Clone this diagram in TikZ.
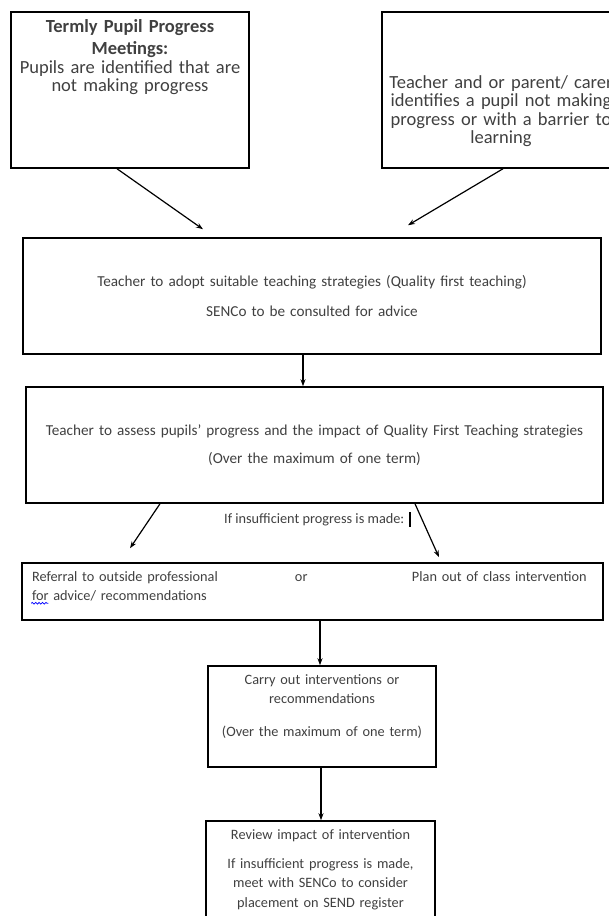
\documentclass[tikz,border=0pt]{standalone}
\usepackage{fontspec}
\setmainfont{Carlito}
\usepackage{tikz}
\usetikzlibrary{arrows.meta, positioning, decorations.pathmorphing}
\newcommand{\fbig}{\fontsize{18.5pt}{18.5pt}\selectfont}
\newcommand{\fmid}{\fontsize{15.2pt}{19.5pt}\selectfont}
\newcommand{\fsmall}{\fontsize{14.3pt}{19.5pt}\selectfont}
\tikzset{
  base/.style    = {draw, line width=1.5pt, text=black!75, align=center, inner sep=5pt},
  pbig/.style    = {base, font=\fbig, minimum width=238pt, text width=228pt},
  pwide/.style   = {base, font=\fmid, minimum height=116pt, text width=565pt},
  pnarrow/.style = {base, font=\fsmall, text width=216pt, text height=13pt},
  ptxt/.style    = {font=\fsmall, text=black!75, inner sep=2pt},
  arr/.style     = {-{Stealth[length=7pt,width=5pt]}, line width=1.2pt},
  squig/.style   = {blue, line width=0.7pt, decorate,
                    decoration={snake, amplitude=0.9pt, segment length=3.4pt}},
}

\begin{document}
\begin{tikzpicture}[x=1pt, y=1pt]

%% ── page ────────────────────────────────────────────────────────────────────
\useasboundingbox (0,0) rectangle (609,-916);
\clip (0,0) rectangle (609,-916);

%% ── top boxes ───────────────────────────────────────────────────────────────
\node[pbig, text height=15.5pt, text depth=130.5pt] (pmeet) at (130,-90)
  {\textbf{Termly Pupil Progress}\\[3.5pt]\textbf{Meetings:}\\Pupils are identified that are\\not making progress};
\node[pbig, text height=71pt, text depth=75pt] (pcarer) at (501,-90)
  {Teacher and or parent/ carer\\identifies a pupil not making\\progress or with a barrier to\\learning};

%% ── main column ─────────────────────────────────────────────────────────────
\node[pwide, minimum width=578pt] (pqft) at (312,-296)
  {Teacher to adopt suitable teaching strategies (Quality first teaching)\\[10pt]SENCo to be consulted for advice};
\node[pwide, minimum width=577pt, below=31.5pt of pqft, xshift=2.5pt] (passess)
  {Teacher to assess pupils’ progress and the impact of Quality First Teaching strategies\\[8pt](Over the maximum of one term)};
\node[ptxt, below=6pt of passess, xshift=3pt] (pinsuf)
  {If insufficient progress is made:\hspace{5pt}\textcolor{black}{\rule[-3.5pt]{1.5pt}{15pt}}};
\node[base, font=\fsmall, align=left, minimum width=581pt, text width=561pt,
      text height=13pt, text depth=34pt, below=58.5pt of passess, xshift=-2pt] (pref)
  {\makebox[263pt][l]{Referral to outside professional}\makebox[117pt][l]{or}Plan out of class intervention\\for advice/ recommendations};
\node[pnarrow, minimum width=228pt, text depth=78pt, below=44.5pt of pref, xshift=9.5pt] (pcarry)
  {Carry out interventions or\\recommendations\\[13.5pt](Over the maximum of one term)};
\node[pnarrow, minimum width=229pt, text depth=87pt, below=52.5pt of pcarry, xshift=-1.5pt] (preview)
  {Review impact of intervention\\[9.5pt]If insufficient progress is made,\\meet with SENCo to consider\\placement on SEND register};

%% ── spell-check mark under "for" ────────────────────────────────────────────
\draw[squig] ([xshift=10pt,yshift=-41pt]pref.north west) -- ([xshift=27pt,yshift=-41pt]pref.north west);

%% ── arrows ──────────────────────────────────────────────────────────────────
\draw[arr] ([xshift=-13pt]pmeet.south)      -- ([xshift=-109pt,yshift=8pt]pqft.north);
\draw[arr] ([xshift=2pt]pcarer.south)       -- ([xshift=96pt,yshift=12pt]pqft.north);
\draw[arr] ([xshift=-9pt]pqft.south)        -- ([xshift=-11.5pt]passess.north);
\draw[arr] ([xshift=-154.5pt]passess.south) -- ([xshift=-182.5pt,yshift=14pt]pref.north);
\draw[arr] ([xshift=100.5pt]passess.south)  -- ([xshift=126.5pt,yshift=5pt]pref.north);
\draw[arr] ([xshift=7.5pt]pref.south)       -- ([xshift=-2pt]pcarry.north);
\draw[arr] ([xshift=-1pt]pcarry.south)      -- ([xshift=0.5pt]preview.north);

\end{tikzpicture}
\end{document}
